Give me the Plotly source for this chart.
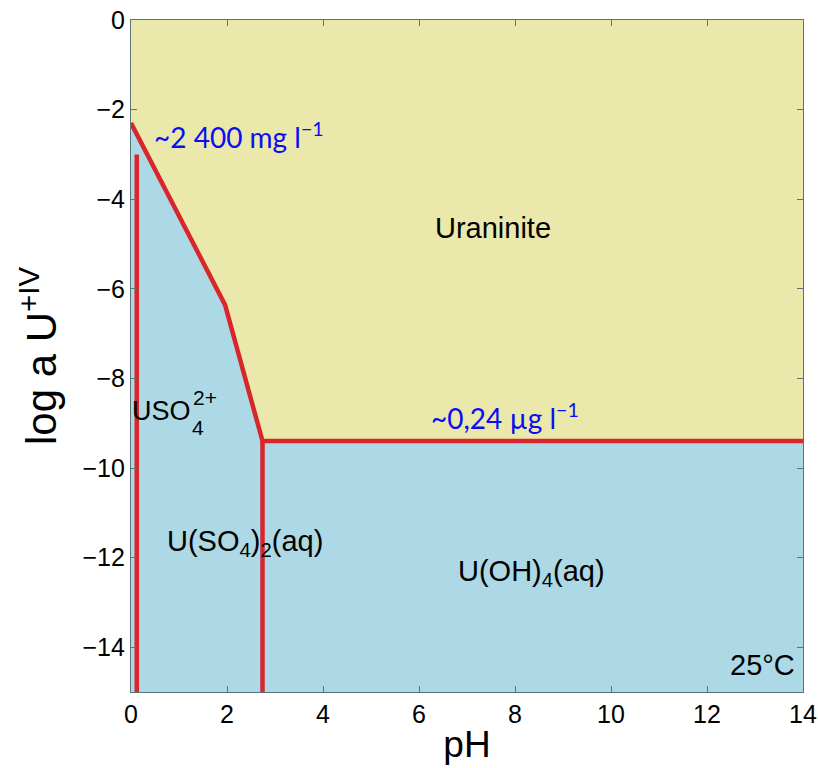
import plotly.graph_objects as go

# Solubility boundary of uraninite vs. aqueous U(IV) species (log activity)
boundary_ph = [0.0, 1.96, 2.74, 14.0]
boundary_log = [-2.3, -6.36, -9.4, -9.4]

# Predominance boundaries among the aqueous species
sulfate_ph = [0.12, 0.12]
sulfate_log = [-15.0, -3.0]
hydroxo_ph = [2.74, 2.74]
hydroxo_log = [-15.0, -9.4]

x_range = [0, 14]
y_range = [-15, 0]
x_ticks = [0, 2, 4, 6, 8, 10, 12, 14]
y_ticks = [0, -2, -4, -6, -8, -10, -12, -14]

YELLOW = "#EAE8AB"
BLUE = "#ADD8E5"
RED = "#D8262B"
FRAME = "#5C7479"
TEXT_BLUE = "#0C0CF5"
FONT = "Liberation Sans, Arial, sans-serif"
FONT_B = "Lato, Open Sans, sans-serif"

fig = go.Figure()

# Aqueous field: everything below the solubility boundary
aq_x = [x_range[0]] + boundary_ph + [x_range[1]]
aq_y = [y_range[0]] + boundary_log + [y_range[0]]
fig.add_trace(go.Scatter(x=aq_x, y=aq_y, fill="toself", fillcolor=BLUE,
                         mode="none", hoverinfo="skip", showlegend=False))

for xs, ys in [(boundary_ph, boundary_log), (sulfate_ph, sulfate_log),
               (hydroxo_ph, hydroxo_log)]:
    fig.add_trace(go.Scatter(x=xs, y=ys, mode="lines",
                             line=dict(color=RED, width=4.5),
                             hoverinfo="skip", showlegend=False))

def label(x, y, text, size=29, color="black", font=FONT, **kw):
    fig.add_annotation(x=x, y=y, xref="x", yref="y", text=text, showarrow=False,
                       font=dict(family=font, size=size, color=color), **kw)

label(7.54, -4.64, "Uraninite")
# USO4(2+) with stacked charge and subscript
label(0.0, -8.72, "USO", size=27, xanchor="left", xshift=-1)
label(1.24, -8.42, "2+", size=21, xanchor="left")
label(1.22, -9.1, "4", size=21, xanchor="left")
label(2.38, -11.67, "U(SO<sub>4</sub>)<sub>2</sub>(aq)")
label(8.35, -12.34, "U(OH)<sub>4</sub>(aq)")
label(13.87, -14.4, "25°C", xanchor="right")
label(2.25, -2.58, "~2 400 mg l<sup>−1</sup>", size=28, color=TEXT_BLUE, font=FONT_B)
label(7.8, -8.85, "~0,24 µg l<sup>−1</sup>", size=28, color=TEXT_BLUE, font=FONT_B)

axis_common = dict(showgrid=False, zeroline=False, showline=True, linecolor=FRAME,
                   linewidth=1.2, mirror="ticks", ticks="inside", ticklen=6,
                   tickcolor=FRAME, tickwidth=1, automargin=False,
                   tickfont=dict(family=FONT, size=25, color="black"))

fig.update_xaxes(range=x_range, tickvals=x_ticks,
                 ticktext=[str(v) for v in x_ticks],
                 title=dict(text="pH", font=dict(family=FONT, size=37, color="black"),
                            standoff=4),
                 **axis_common)
fig.update_yaxes(range=y_range, tickvals=y_ticks,
                 ticktext=[str(v).replace("-", "−") for v in y_ticks],
                 title=dict(text="log a U<sup>+IV</sup>",
                            font=dict(family=FONT, size=42, color="black"),
                            standoff=12),
                 **axis_common)

fig.update_layout(width=818, height=768, plot_bgcolor=YELLOW, paper_bgcolor="white",
                  margin=dict(l=131, r=15, t=20, b=76))

fig.write_html("out.html")
